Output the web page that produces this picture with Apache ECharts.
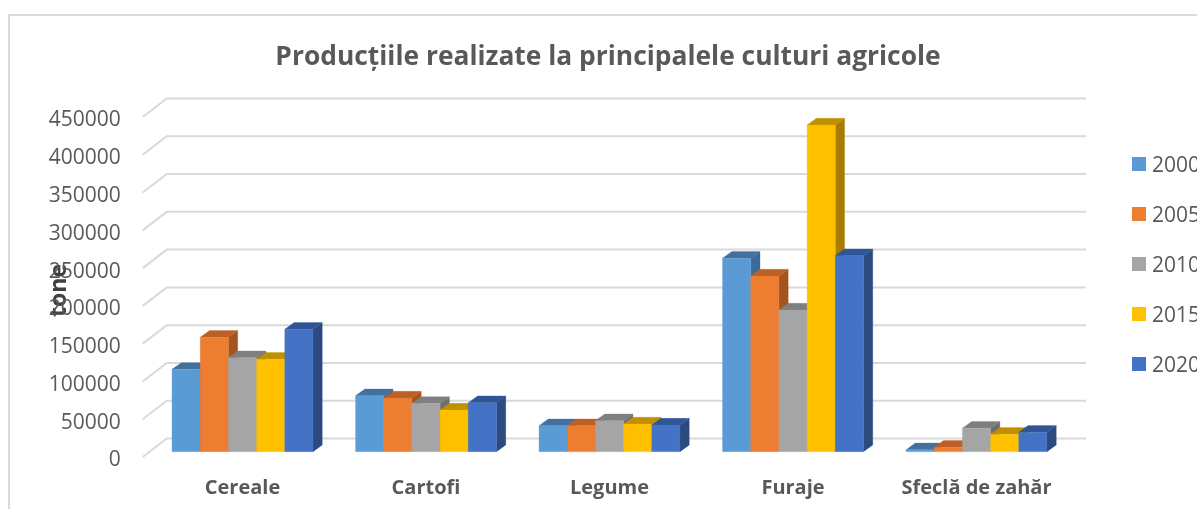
<!DOCTYPE html>
<html>
<head>
<meta charset="utf-8">
<style>html,body{margin:0;padding:0;background:#fff;overflow:hidden}#c{width:1197px;height:509px}</style>
<script src="https://cdn.jsdelivr.net/npm/echarts@6/dist/echarts.min.js"></script>
</head>
<body>
<div id="c"></div>
<script>
const categories = ['Cereale', 'Cartofi', 'Legume', 'Furaje', 'Sfeclă de zahăr'];
const years = ['2000', '2005', '2010', '2015', '2020'];
const values2000 = [109000, 74100, 34400, 256000, 2500];
const values2005 = [151400, 71000, 34500, 232500, 5800];
const values2010 = [124400, 64000, 41000, 187500, 31000];
const values2015 = [122300, 55200, 36700, 432400, 23000];
const values2020 = [162000, 64900, 35300, 259400, 25700];
const yTicks = [0, 50000, 100000, 150000, 200000, 250000, 300000, 350000, 400000, 450000];

const allValues = [values2000, values2005, values2010, values2015, values2020];
const frontColors = ['#5B9BD5', '#ED7D31', '#A5A5A5', '#FFC000', '#4472C4'];
const topColors = ['#41719C', '#BC6026', '#7F7F7F', '#BF9000', '#2F5597'];
const sideColors = ['#3B6C99', '#A4551F', '#6E6E6E', '#A67D00', '#2A4A80'];
const textColor = '#595959';
const gridColor = '#D9D9D9';
const fontFamily = '"Open Sans", sans-serif';

const barShare = 0.1536;   // one bar as a share of a category band
const frontLift = 3.5;     // the axis plane sits just below the floor's front edge
const planeLift = 8.8;     // bars stand slightly behind the front plane
const depthX = 9.3, depthY = 6.7;
const wallDX = 24, wallDY = 18.5, wallLeftInset = 8, wallRight = 1086;

const barSeries = years.map((year, s) => ({
  name: year,
  type: 'custom',
  coordinateSystem: 'cartesian2d',
  itemStyle: { color: frontColors[s] },
  encode: { x: 0, y: 1 },
  z: 5 + s,
  data: allValues[s].map((v, i) => [i, v]),
  renderItem(params, api) {
    const cat = api.value(0), val = api.value(1);
    const top = api.coord([cat, val]);
    const base = api.coord([cat, 0]);
    const w = api.size([1, 0])[0] * barShare;
    const x0 = top[0] - 2.5 * w + s * w, x1 = x0 + w;
    const yT = top[1] - planeLift, yB = base[1] - planeLift;
    const poly = (points, fill) => ({
      type: 'polygon', shape: { points }, style: { fill, stroke: fill, lineWidth: 0.3 }
    });
    return {
      type: 'group',
      children: [
        poly([[x1, yT], [x1 + depthX, yT - depthY], [x1 + depthX, yB - depthY], [x1, yB]], sideColors[s]),
        poly([[x0, yT], [x0 + depthX, yT - depthY], [x1 + depthX, yT - depthY], [x1, yT]], topColors[s]),
        poly([[x0, yT], [x1, yT], [x1, yB], [x0, yB]], frontColors[s])
      ]
    };
  }
}));

const wallSeries = {
  name: 'wall',
  type: 'custom',
  coordinateSystem: 'cartesian2d',
  silent: true,
  z: 1,
  encode: { x: 0, y: 1 },
  data: yTicks.map(t => [0, t]),
  renderItem(params, api) {
    const p = api.coord([0, api.value(1)]);
    const x = params.coordSys.x - wallLeftInset;
    const y = p[1] - frontLift;
    return {
      type: 'polyline',
      shape: { points: [[x, y], [x + wallDX, y - wallDY], [wallRight, y - wallDY]] },
      style: { stroke: gridColor, lineWidth: 2, fill: null }
    };
  }
};

const chart = echarts.init(document.getElementById('c'), null, { renderer: 'canvas' });
chart.setOption({
  animation: false,
  backgroundColor: '#fff',
  title: {
    text: 'Producțiile realizate la principalele culturi agricole',
    left: 603, top: 39, textAlign: 'center',
    textStyle: { fontFamily, fontWeight: 'bold', fontSize: 26.4, color: textColor }
  },
  legend: {
    orient: 'vertical',
    left: 1132, top: 156, padding: 0,
    icon: 'rect', itemWidth: 14, itemHeight: 14, itemGap: 29,
    data: years,
    formatter: '{t|{name}}',
    textStyle: {
      color: textColor,
      rich: { t: { fontFamily, fontSize: 21, color: textColor, padding: [5, 0, 0, 1] } }
    }
  },
  grid: { left: 150.75, top: 120.5, width: 917.5, height: 340, containLabel: false },
  xAxis: {
    type: 'category', data: categories,
    axisLine: { show: false }, axisTick: { show: false }, splitLine: { show: false },
    axisLabel: { margin: 17.5, interval: 0, fontFamily, fontWeight: 'bold', fontSize: 20, color: textColor }
  },
  yAxis: {
    type: 'value', min: 0, max: 450000, interval: 50000,
    name: 'tone', nameLocation: 'middle', nameRotate: 90, nameGap: 80, nameMoveOverlap: false,
    nameTextStyle: { fontFamily, fontWeight: 'bold', fontSize: 23, color: '#404040' },
    axisLine: { show: false }, axisTick: { show: false }, splitLine: { show: false },
    axisLabel: { margin: 30, fontFamily, fontSize: 21, color: textColor, formatter: v => String(v) }
  },
  graphic: [{
    type: 'polyline', silent: true,
    shape: { points: [[9, 509], [9, 15], [1197, 15]] },
    style: { stroke: gridColor, lineWidth: 2, fill: null }
  }],
  series: [wallSeries, ...barSeries]
});
</script>
</body>
</html>
